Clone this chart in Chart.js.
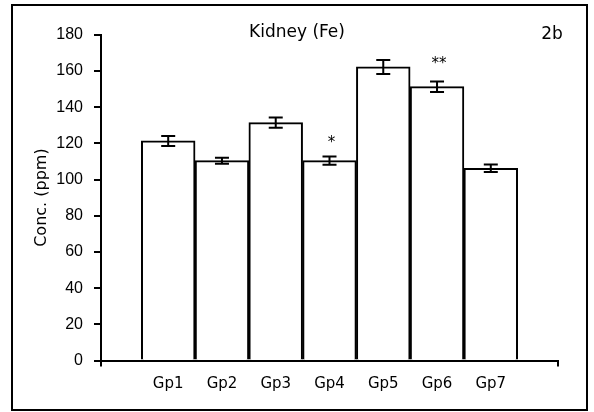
<!DOCTYPE html>
<html><head><meta charset="utf-8">
<script src="https://cdn.jsdelivr.net/npm/chart.js@4.4.1/dist/chart.umd.min.js"></script>
<style>
html,body{margin:0;padding:0;background:#fff;}
#frame{position:absolute;left:11px;top:4px;width:577px;height:407px;border:2px solid #000;box-sizing:border-box;}
#wrap{position:absolute;left:0;top:0;width:594px;height:412px;}
</style></head><body>
<div id="frame"></div>
<div id="wrap"><canvas id="c" width="594" height="412"></canvas></div>
<script>
const categories = ['Gp1', 'Gp2', 'Gp3', 'Gp4', 'Gp5', 'Gp6', 'Gp7'];
const values = [121.3, 110.4, 131.4, 110.4, 162.2, 151.3, 106.2];
const errors = [2.75, 1.65, 2.8, 2.3, 3.85, 2.9, 2.1];
const marks = ['', '', '', '*', '', '**', ''];
const yTicks = [0, 20, 40, 60, 80, 100, 120, 140, 160, 180];
const chartTitle = 'Kidney (Fe)';
const panelLabel = '2b';
const yAxisTitle = 'Conc. (ppm)';

const FONT = '"Liberation Sans", Arial, sans-serif';
const WIDE = '"DejaVu Sans", sans-serif';
const xMin = -0.25, xMax = categories.length + 1.25;

const errorBarPlugin = {
  id: 'errorBars',
  afterDatasetsDraw(chart) {
    const {ctx, scales: {x, y}} = chart;
    ctx.save();
    ctx.strokeStyle = '#000';
    ctx.lineWidth = 2;
    values.forEach((v, i) => {
      const px = x.getPixelForValue(i + 1);
      const top = y.getPixelForValue(v + errors[i]);
      const bot = y.getPixelForValue(v - errors[i]);
      ctx.beginPath();
      ctx.moveTo(px, top); ctx.lineTo(px, bot);
      ctx.moveTo(px - 7, top); ctx.lineTo(px + 7, top);
      ctx.moveTo(px - 7, bot); ctx.lineTo(px + 7, bot);
      ctx.stroke();
      if (marks[i]) {
        ctx.fillStyle = '#000';
        ctx.font = '15px ' + WIDE;
        ctx.textAlign = 'center';
        ctx.textBaseline = 'alphabetic';
        ctx.fillText(marks[i], px + 2, top - (marks[i].length > 1 ? 13 : 10));
      }
    });
    ctx.fillStyle = '#000';
    ctx.font = '17px ' + WIDE;
    ctx.textAlign = 'center';
    ctx.textBaseline = 'middle';
    ctx.fillText(panelLabel, chart.chartArea.right - 6, 35);
    ctx.restore();
  }
};

new Chart(document.getElementById('c'), {
  type: 'bar',
  data: {
    datasets: [{
      data: values.map((v, i) => ({x: i + 1, y: v})),
      backgroundColor: '#fff',
      borderColor: '#000',
      borderWidth: 2,
      barPercentage: 1,
      categoryPercentage: 1
    }]
  },
  options: {
    responsive: false,
    animation: false,
    layout: {padding: {left: 36, right: 36, top: 0, bottom: 9.5}},
    plugins: {
      legend: {display: false},
      tooltip: {enabled: false},
      title: {
        display: true,
        text: chartTitle,
        color: '#000',
        font: {family: WIDE, size: 17, weight: 'normal'},
        padding: {top: 22, bottom: -7.7}
      }
    },
    scales: {
      x: {
        type: 'linear',
        offset: false,
        min: xMin,
        max: xMax,
        afterBuildTicks(scale) {
          scale.ticks = [xMin, ...categories.map((c, i) => i + 1), xMax].map(v => ({value: v}));
        },
        ticks: {
          autoSkip: false,
          maxRotation: 0,
          padding: 9,
          color: '#000',
          font: {family: WIDE, size: 15},
          callback: (v) => (Number.isInteger(v) && v >= 1 && v <= categories.length) ? categories[v - 1] : ''
        },
        grid: {
          offset: false,
          drawOnChartArea: false,
          drawTicks: true,
          tickLength: 6,
          lineWidth: 2,
          color: (ctx) => (ctx.tick && (ctx.tick.value === xMin || ctx.tick.value === xMax)) ? '#000' : 'rgba(0,0,0,0)'
        },
        border: {display: true, color: '#000', width: 2}
      },
      y: {
        min: 0,
        max: 180,
        afterFit(scale) { scale.width = 65; },
        afterBuildTicks(scale) { scale.ticks = yTicks.map(v => ({value: v})); },
        ticks: {
          padding: 11,
          color: '#000',
          font: {family: FONT, size: 16}
        },
        grid: {
          drawOnChartArea: false,
          drawTicks: true,
          tickLength: 7,
          lineWidth: 2,
          color: '#000'
        },
        border: {display: true, color: '#000', width: 2},
        title: {
          display: true,
          text: yAxisTitle,
          color: '#000',
          font: {family: WIDE, size: 16},
          padding: {top: -4, bottom: 0}
        }
      }
    }
  },
  plugins: [errorBarPlugin]
});
</script>
</body></html>
